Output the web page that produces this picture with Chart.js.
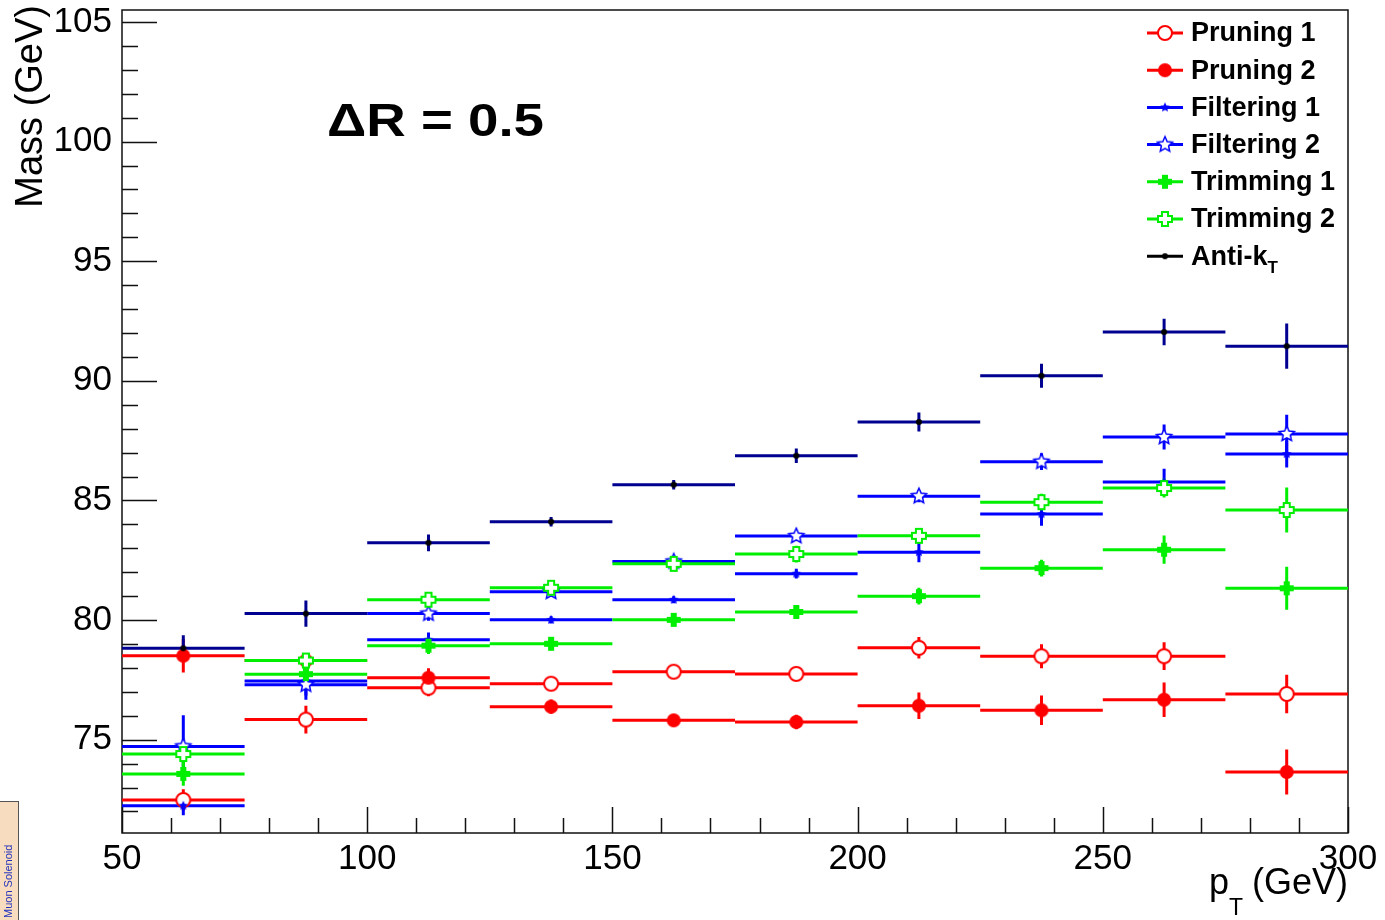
<!DOCTYPE html>
<html>
<head>
<meta charset="utf-8">
<title>Mass vs pT</title>
<script src="https://cdn.jsdelivr.net/npm/chart.js@4.4.1/dist/chart.umd.min.js"></script>
<style>
  body { margin: 0; background: #fff; }
  #wrap { width: 1385px; height: 920px; position: relative; }
</style>
</head>
<body>
<div id="wrap"><canvas id="grafico" width="1385" height="920"></canvas></div>
<script>
// bins de pT (GeV)
const binEdges = [50, 75, 100, 125, 150, 175, 200, 225, 250, 275, 300];
const xTicks = [50, 100, 150, 200, 250, 300];
const yTicks = [75, 80, 85, 90, 95, 100, 105];

// massa (GeV) e erros
const pruning1 = [72.48, 75.84, 77.17, 77.34, 77.84, 77.75, 78.84, 78.49, 78.49, 76.91];
const pruning1Err = [0.45, 0.58, 0.35, 0.25, 0.2, 0.25, 0.45, 0.5, 0.58, 0.8];
const pruning2 = [78.51, 78.31, 77.59, 76.38, 75.81, 75.74, 76.42, 76.23, 76.67, 73.65];
const pruning2Err = [0.7, 0.3, 0.4, 0.3, 0.25, 0.3, 0.55, 0.62, 0.72, 0.94];
const filtering1 = [72.24, 77.45, 79.18, 80.01, 80.85, 81.94, 82.84, 84.43, 85.77, 86.94];
const filtering1Err = [0.4, 0.6, 0.3, 0.15, 0.15, 0.2, 0.42, 0.49, 0.56, 0.56];
const filtering2 = [74.72, 77.30, 80.27, 81.18, 82.45, 83.51, 85.18, 86.62, 87.65, 87.78];
const filtering2Err = [1.3, 0.63, 0.3, 0.2, 0.2, 0.2, 0.25, 0.35, 0.52, 0.8];
const trimming1 = [73.57, 77.74, 78.93, 79.01, 80.01, 80.34, 81.0, 82.17, 82.94, 81.33];
const trimming1Err = [0.5, 0.6, 0.35, 0.2, 0.25, 0.25, 0.35, 0.35, 0.59, 0.9];
const trimming2 = [74.40, 78.31, 80.85, 81.35, 82.35, 82.76, 83.52, 84.93, 85.52, 84.6];
const trimming2Err = [0.5, 0.3, 0.3, 0.25, 0.25, 0.35, 0.3, 0.35, 0.4, 0.94];
const antiKt = [78.82, 80.27, 83.23, 84.11, 85.66, 86.87, 88.28, 90.21, 92.04, 91.45];
const antiKtErr = [0.55, 0.55, 0.35, 0.2, 0.2, 0.3, 0.4, 0.5, 0.55, 0.95];

const FONT = '"Liberation Sans", Arial, Helvetica, sans-serif';

// ---------- marcadores ----------
function criarMarcador(tipo, cor, r) {
  const c = document.createElement('canvas');
  const s = Math.ceil(2 * r + 4);
  c.width = s; c.height = s;
  const ctx = c.getContext('2d');
  ctx.translate(s / 2, s / 2);
  ctx.strokeStyle = cor;
  ctx.fillStyle = cor;
  ctx.lineWidth = 2;
  if (tipo === 'circuloAberto' || tipo === 'circulo') {
    ctx.beginPath();
    ctx.arc(0, 0, r - 1, 0, Math.PI * 2);
    if (tipo === 'circulo') ctx.fill();
    else { ctx.fillStyle = '#fff'; ctx.fill(); ctx.stroke(); }
  } else if (tipo === 'cruz' || tipo === 'cruzAberta') {
    const t = r * 0.38, L = r - 1;
    const p = [[-t,-L],[t,-L],[t,-t],[L,-t],[L,t],[t,t],[t,L],[-t,L],[-t,t],[-L,t],[-L,-t],[-t,-t]];
    ctx.beginPath();
    p.forEach((q, i) => i ? ctx.lineTo(q[0], q[1]) : ctx.moveTo(q[0], q[1]));
    ctx.closePath();
    if (tipo === 'cruz') ctx.fill();
    else { ctx.fillStyle = '#fff'; ctx.fill(); ctx.stroke(); }
  } else if (tipo === 'estrela' || tipo === 'estrelaAberta') {
    ctx.beginPath();
    for (let i = 0; i < 10; i++) {
      const rr = i % 2 ? r * 0.42 : r - 1;
      const a = -Math.PI / 2 + i * Math.PI / 5;
      const px = rr * Math.cos(a), py = rr * Math.sin(a);
      i ? ctx.lineTo(px, py) : ctx.moveTo(px, py);
    }
    ctx.closePath();
    if (tipo === 'estrela') ctx.fill();
    else { ctx.fillStyle = '#fff'; ctx.fill(); ctx.lineWidth = 1.5; ctx.stroke(); }
  }
  return c;
}

const series = [
  { nome: 'Pruning 1', valores: pruning1, erros: pruning1Err, cor: '#ff0000', linha: '#ff0000', marcador: criarMarcador('circuloAberto', '#ff0000', 8) },
  { nome: 'Pruning 2', valores: pruning2, erros: pruning2Err, cor: '#ff0000', linha: '#ff0000', marcador: criarMarcador('circulo', '#ff0000', 8) },
  { nome: 'Filtering 1', valores: filtering1, erros: filtering1Err, cor: '#0000ff', linha: '#0000ff', marcador: criarMarcador('estrela', '#0000ff', 6) },
  { nome: 'Filtering 2', valores: filtering2, erros: filtering2Err, cor: '#0000ff', linha: '#0000ff', marcador: criarMarcador('estrelaAberta', '#0000ff', 9) },
  { nome: 'Trimming 1', valores: trimming1, erros: trimming1Err, cor: '#00ee00', linha: '#00ee00', marcador: criarMarcador('cruz', '#00ee00', 8) },
  { nome: 'Trimming 2', valores: trimming2, erros: trimming2Err, cor: '#00ee00', linha: '#00ee00', marcador: criarMarcador('cruzAberta', '#00ee00', 8) },
  { nome: 'Anti-k', sub: 'T', valores: antiKt, erros: antiKtErr, cor: '#000000', linha: '#000090', marcador: criarMarcador('circulo', '#000000', 4) }
];

// segmentos horizontais (largura do bin) + barras de erro verticais
function montarLinhas(valores, erros) {
  const pts = [];
  valores.forEach((v, i) => {
    const lo = binEdges[i], hi = binEdges[i + 1], c = (lo + hi) / 2;
    pts.push({ x: lo, y: v }, { x: hi, y: v }, { x: hi, y: null });
    pts.push({ x: c, y: v - erros[i] }, { x: c, y: v + erros[i] }, { x: c, y: null });
  });
  return pts;
}

function montarPontos(valores) {
  return valores.map((v, i) => ({ x: (binEdges[i] + binEdges[i + 1]) / 2, y: v }));
}

const datasets = [];
series.forEach((s, k) => {
  datasets.push({
    label: s.nome + ' linhas',
    data: montarLinhas(s.valores, s.erros),
    borderColor: s.linha,
    borderWidth: 3,
    borderCapStyle: 'butt',
    pointRadius: 0,
    spanGaps: false,
    fill: false,
    tension: 0,
    order: 50 - k
  });
  datasets.push({
    label: s.nome,
    data: montarPontos(s.valores),
    showLine: false,
    pointStyle: s.marcador,
    pointRadius: 6,
    order: 20 - k
  });
});

// ---------- eixos estilo ROOT ----------
const pluginEixos = {
  id: 'eixos',
  beforeDatasetsDraw(chart) {
    const { ctx, chartArea: a, scales: { x, y } } = chart;
    ctx.save();
    ctx.strokeStyle = '#111';
    ctx.lineWidth = 1.5;
    ctx.strokeRect(a.left, a.top, a.right - a.left, a.bottom - a.top);
    ctx.beginPath();
    for (let v = Math.ceil(y.min); v <= y.max; v++) {
      const py = Math.round(y.getPixelForValue(v)) + 0.5;
      const len = v % 5 === 0 ? 35 : 16;
      ctx.moveTo(a.left, py); ctx.lineTo(a.left + len, py);
    }
    for (let v = x.min; v <= x.max; v += 10) {
      const px = Math.round(x.getPixelForValue(v)) + 0.5;
      const len = v % 50 === 0 ? 26 : 15;
      ctx.moveTo(px, a.bottom); ctx.lineTo(px, a.bottom - len);
    }
    ctx.stroke();
    ctx.restore();
  }
};

function textoLargura(ctx, txt, x, y, largura) {
  const w = ctx.measureText(txt).width;
  ctx.save();
  ctx.translate(x, y);
  ctx.scale(largura / w, 1);
  ctx.fillText(txt, 0, 0);
  ctx.restore();
}

const pluginTextos = {
  id: 'textos',
  afterDraw(chart) {
    const { ctx, chartArea: a } = chart;
    ctx.save();
    ctx.fillStyle = '#000';

    // Delta R
    ctx.font = 'bold 47px ' + FONT;
    ctx.textBaseline = 'alphabetic';
    ctx.textAlign = 'left';
    textoLargura(ctx, 'ΔR = 0.5', 327, 136, 217);

    // titulo eixo y
    ctx.save();
    ctx.translate(42, 5);
    ctx.rotate(-Math.PI / 2);
    ctx.font = '38px ' + FONT;
    ctx.textAlign = 'right';
    ctx.textBaseline = 'alphabetic';
    ctx.fillText('Mass (GeV)', 0, 0);
    ctx.restore();

    // titulo eixo x
    ctx.font = '36px ' + FONT;
    ctx.textAlign = 'right';
    const parte = ' (GeV)';
    const wParte = ctx.measureText(parte).width;
    ctx.fillText(parte, a.right, 894);
    ctx.font = '23px ' + FONT;
    const wT = ctx.measureText('T').width;
    ctx.fillText('T', a.right - wParte + 1, 915);
    ctx.font = '36px ' + FONT;
    ctx.fillText('p', a.right - wParte - wT + 1, 894);

    // legenda
    const lx = 1147, ly0 = 33, dy = 37.2;
    series.forEach((s, i) => {
      const yy = ly0 + i * dy;
      ctx.strokeStyle = s.cor;
      ctx.lineWidth = 3;
      ctx.beginPath();
      ctx.moveTo(lx, yy); ctx.lineTo(lx + 36, yy);
      ctx.stroke();
      const m = s.marcador;
      ctx.drawImage(m, lx + 18 - m.width / 2, yy - m.height / 2);
      ctx.fillStyle = '#000';
      ctx.font = 'bold 27px ' + FONT;
      ctx.textAlign = 'left';
      ctx.textBaseline = 'middle';
      ctx.fillText(s.nome, 1191, yy + 1);
      if (s.sub) {
        const w = ctx.measureText(s.nome).width;
        ctx.font = 'bold 17px ' + FONT;
        ctx.fillText(s.sub, 1191 + w, yy + 12);
      }
    });

    // recorte "Muon Solenoid" no canto
    ctx.fillStyle = '#f8dcc0';
    ctx.fillRect(0, 801, 19, 119);
    ctx.strokeStyle = '#555';
    ctx.lineWidth = 1;
    ctx.strokeRect(-1, 801.5, 19.5, 120);
    ctx.save();
    ctx.beginPath(); ctx.rect(0, 802, 19, 118); ctx.clip();
    ctx.translate(12, 918);
    ctx.rotate(-Math.PI / 2);
    ctx.fillStyle = '#2233bb';
    ctx.font = '11px ' + FONT;
    ctx.textAlign = 'left';
    ctx.textBaseline = 'alphabetic';
    ctx.fillText('Muon Solenoid', 0, 0);
    ctx.restore();

    ctx.restore();
  }
};

new Chart(document.getElementById('grafico').getContext('2d'), {
  type: 'line',
  data: { datasets },
  options: {
    responsive: false,
    devicePixelRatio: 1,
    animation: false,
    events: [],
    layout: { padding: { left: 0, top: 10, right: 37, bottom: 0 } },
    plugins: { legend: { display: false }, tooltip: { enabled: false } },
    scales: {
      x: {
        type: 'linear',
        min: 50,
        max: 300,
        afterBuildTicks: sc => { sc.ticks = xTicks.map(v => ({ value: v })); },
        afterFit: sc => { sc.height = 87; sc.paddingLeft = 0; sc.paddingRight = 0; },
        grid: { display: false, drawTicks: false },
        border: { display: false },
        ticks: { color: '#000', font: { size: 35, family: FONT }, padding: 5, maxRotation: 0, autoSkip: false }
      },
      y: {
        type: 'linear',
        min: 71.1,
        max: 105.5,
        afterBuildTicks: sc => { sc.ticks = yTicks.map(v => ({ value: v })); },
        afterFit: sc => { sc.width = 122; sc.paddingTop = 0; sc.paddingBottom = 0; },
        grid: { display: false, drawTicks: false },
        border: { display: false },
        ticks: { color: '#000', font: { size: 35, family: FONT }, padding: 10, autoSkip: false }
      }
    }
  },
  plugins: [pluginEixos, pluginTextos]
});
</script>
</body>
</html>
